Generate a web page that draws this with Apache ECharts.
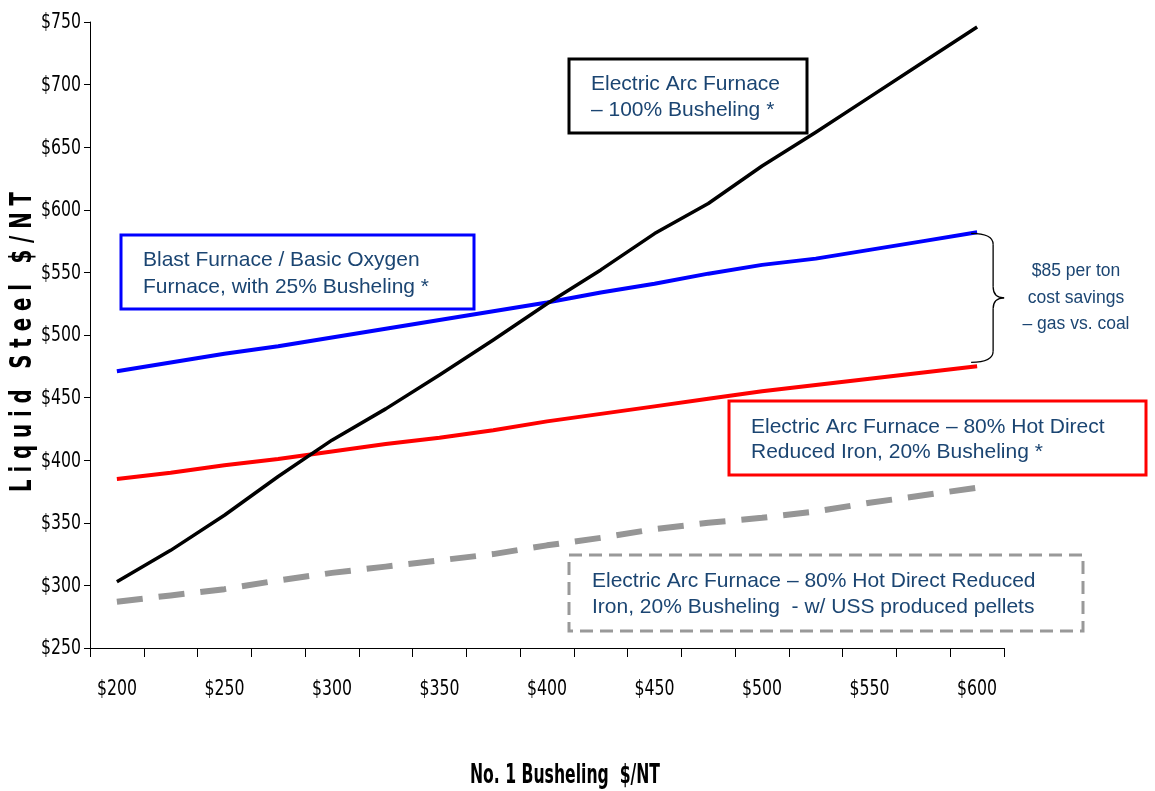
<!DOCTYPE html>
<html>
<head>
<meta charset="utf-8">
<script src="https://cdn.jsdelivr.net/npm/echarts@6/dist/echarts.min.js"></script>
<style>
  html, body { margin: 0; padding: 0; background: #ffffff; }
  #chart { width: 1155px; height: 791px; }
</style>
</head>
<body>
<div id="chart"></div>
<script>
// No. 1 Busheling price ($/NT) on the category axis
const busheling = ['$200', '$225', '$250', '$275', '$300', '$325', '$350', '$375', '$400',
                   '$425', '$450', '$475', '$500', '$525', '$550', '$575', '$600'];

// Liquid steel cost ($/NT) for each route
const eaf100 = [303, 328, 356, 387, 416, 441, 468, 496, 525, 552, 581, 605, 635, 662, 690, 718, 746];
const bfBof = [471, 478, 485, 491, 498, 505, 512, 519, 526, 534, 541, 549, 556, 561, 568, 575, 582];
const eafHdri = [385, 390, 396, 401, 407, 413, 418, 424, 431, 437, 443, 449, 455, 460, 465, 470, 475];
const eafHdriUss = [287, 292, 297, 304, 310, 315, 320, 325, 332, 338, 345, 350, 354, 359, 366, 372, 378];

// Value axis range and its tick labels
const yMin = 250, yMax = 750, yStep = 50;
const yTickValues = [250, 300, 350, 400, 450, 500, 550, 600, 650, 700, 750];

const NARROW = "'Liberation Sans Narrow', 'Arial Narrow', 'DejaVu Sans Condensed', sans-serif";
const SANS = "'Liberation Sans', Arial, sans-serif";
const NOTE_COLOR = '#1b4572';

const chart = echarts.init(document.getElementById('chart'), null, { renderer: 'canvas' });

// Width of a string in a given font, used to squeeze the condensed axis text
const measureCtx = document.createElement('canvas').getContext('2d');
function textWidth(text, font) {
  measureCtx.font = font;
  return measureCtx.measureText(text).width;
}

const lineSeries = (name, data, color, width, type) => ({
  name, type: 'line', data,
  showSymbol: false, symbol: 'none', smooth: false,
  lineStyle: { color, width, type: type || 'solid', cap: 'butt', join: 'round' },
  emphasis: { disabled: true },
  silent: true
});

// Boxed series notes
function noteBox(x, y, w, h, stroke, dash, lines, tx, ty, lh) {
  return {
    type: 'group', z: 100,
    children: [
      { type: 'rect', shape: { x, y, width: w, height: h },
        style: { fill: '#ffffff', stroke, lineWidth: 3, lineDash: dash || null } },
      { type: 'text', x: tx, y: ty,
        style: { text: lines.join('\n'), fill: NOTE_COLOR, font: '21px ' + SANS,
                 lineHeight: lh, align: 'left', verticalAlign: 'top' } }
    ]
  };
}

const option = {
  animation: false,
  backgroundColor: '#ffffff',
  grid: { left: 90, right: 151, top: 22, bottom: 143, containLabel: false },
  xAxis: {
    type: 'category',
    data: busheling,
    boundaryGap: true,
    axisLine: { show: true, lineStyle: { color: '#000', width: 1 } },
    axisTick: { show: true, interval: 0, length: 9, lineStyle: { color: '#000', width: 1 } },
    axisLabel: { show: false, interval: 1 },
    splitLine: { show: false }
  },
  yAxis: {
    type: 'value',
    min: yMin, max: yMax, interval: yStep,
    axisLine: { show: true, lineStyle: { color: '#000', width: 1 } },
    axisTick: { show: true, length: 6, lineStyle: { color: '#000', width: 1 } },
    axisLabel: { show: false },
    splitLine: { show: false }
  },
  series: [
    lineSeries('EAF 80% HDRI, 20% Busheling - USS pellets', eafHdriUss, '#969696', 6, [26, 16]),
    lineSeries('EAF 80% HDRI, 20% Busheling', eafHdri, '#ff0000', 4),
    lineSeries('BF / BOF, 25% Busheling', bfBof, '#0000ff', 4),
    lineSeries('EAF 100% Busheling', eaf100, '#000000', 3.5)
  ]
};
chart.setOption(option);

// Condensed tick labels placed through the axes' own scales
const LABEL_FONT = '21px ' + NARROW;
const labelScale = 40 / textWidth('$750', LABEL_FONT);
const tickLabels = [];
yTickValues.forEach(v => {
  const p = chart.convertToPixel({ gridIndex: 0 }, [0, v]);
  tickLabels.push({ type: 'text', z: 100, silent: true, x: 81, y: p[1] + 1, scaleX: labelScale,
    style: { text: '$' + v, fill: '#000', font: LABEL_FONT, align: 'right', verticalAlign: 'middle' } });
});
busheling.forEach((c, i) => {
  if (i % 2 !== 0) return;
  const p = chart.convertToPixel({ gridIndex: 0 }, [i, yMin]);
  tickLabels.push({ type: 'text', z: 100, silent: true, x: p[0], y: p[1] + 42, scaleX: labelScale,
    style: { text: c, fill: '#000', font: LABEL_FONT, align: 'center', verticalAlign: 'middle' } });
});

// Brace spanning the BF/BOF and HDRI end points, with its savings note
const last = busheling.length - 1;
const pTop = chart.convertToPixel({ gridIndex: 0 }, [last, bfBof[last]]);
const pBot = chart.convertToPixel({ gridIndex: 0 }, [last, eafHdri[last]]);
const bx0 = pTop[0] - 6, bx1 = pTop[0] + 16, bTip = pTop[0] + 27;
const yT = pTop[1] + 1, yB = pBot[1] - 4, yM = (yT + yB) / 2, r = 11;
const braceStyle = { fill: null, stroke: '#000', lineWidth: 1.3 };
const curve = (x1, y1, cx, cy, x2, y2) => ({
  type: 'bezierCurve', z: 100, silent: true,
  shape: { x1, y1, x2, y2, cpx1: cx, cpy1: cy }, style: braceStyle
});
const seg = (x1, y1, x2, y2) => ({
  type: 'line', z: 100, silent: true, shape: { x1, y1, x2, y2 }, style: braceStyle
});
const brace = [
  curve(bx0, yT, bx1, yT, bx1, yT + r),
  seg(bx1, yT + r, bx1, yM - r),
  curve(bx1, yM - r, bx1, yM, bTip, yM),
  curve(bTip, yM, bx1, yM, bx1, yM + r),
  seg(bx1, yM + r, bx1, yB - r),
  curve(bx1, yB - r, bx1, yB, bx0, yB)
];

// Axis titles, squeezed along the text direction to the condensed look
const yTitle = 'L i q u i d   S t e e l   $ / N T';
const yTitleFont = 'bold 30px ' + NARROW;
const yTitleScale = 300 / textWidth(yTitle, yTitleFont);
const xTitle = 'No. 1 Busheling  $/NT';
const xTitleFont = 'bold 26px ' + NARROW;
const xTitleScale = 190 / textWidth(xTitle, xTitleFont);

chart.setOption({
  graphic: [
    ...tickLabels,
    ...brace,
    { type: 'text', z: 100, x: 1076, y: yM,
      style: { text: '$85 per ton\ncost savings\n\u2013 gas vs. coal', fill: NOTE_COLOR,
               font: '17.5px ' + SANS, lineHeight: 26.5, align: 'center', verticalAlign: 'middle' } },

    noteBox(121, 235, 353, 74, '#0000ff', null,
            ['Blast Furnace / Basic Oxygen', 'Furnace, with 25% Busheling *'], 143, 247, 27),
    noteBox(569, 59, 238, 74, '#000000', null,
            ['Electric Arc Furnace', '\u2013 100% Busheling *'], 591, 71, 26),
    noteBox(729, 401, 417, 74, '#ff0000', null,
            ['Electric Arc Furnace \u2013 80% Hot Direct', 'Reduced Iron, 20% Busheling *'], 751, 414, 25.5),
    noteBox(569, 555, 514, 76, '#999999', [13, 7],
            ['Electric Arc Furnace \u2013 80% Hot Direct Reduced', 'Iron, 20% Busheling  - w/ USS produced pellets'], 592, 568, 26),

    { type: 'text', z: 100, x: 23, y: 342, rotation: Math.PI / 2, scaleX: yTitleScale,
      style: { text: yTitle, fill: '#000', font: yTitleFont, align: 'center', verticalAlign: 'middle' } },
    { type: 'text', z: 100, x: 565, y: 776, scaleX: xTitleScale,
      style: { text: xTitle, fill: '#000', font: xTitleFont, align: 'center', verticalAlign: 'middle' } }
  ]
});
</script>
</body>
</html>
